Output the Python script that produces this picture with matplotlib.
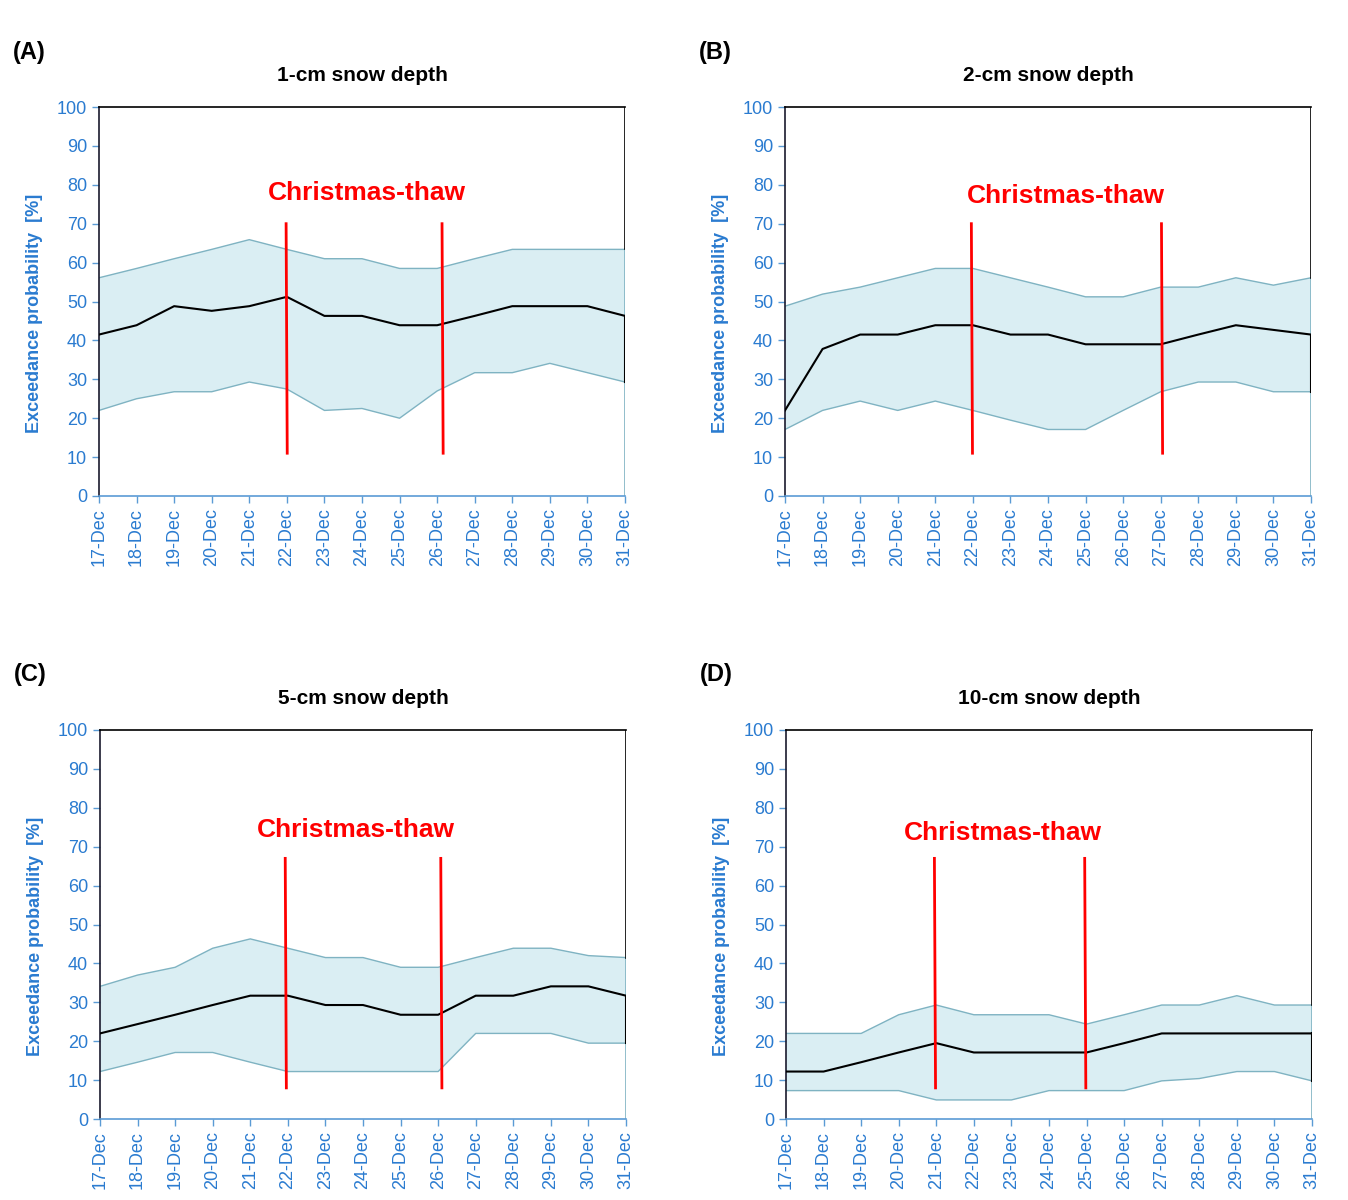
import matplotlib
matplotlib.use("Agg")
import matplotlib.pyplot as plt

plt.rcParams["font.family"] = ["Liberation Sans", "DejaVu Sans"]

days = ["17-Dec", "18-Dec", "19-Dec", "20-Dec", "21-Dec", "22-Dec", "23-Dec", "24-Dec",
        "25-Dec", "26-Dec", "27-Dec", "28-Dec", "29-Dec", "30-Dec", "31-Dec"]

# panel A: 1-cm snow depth
a_upper = [56.1, 58.5, 61.0, 63.4, 65.9, 63.4, 61.0, 61.0, 58.5, 58.5, 61.0, 63.4, 63.4, 63.4, 63.4]
a_median = [41.5, 43.9, 48.8, 47.6, 48.8, 51.2, 46.3, 46.3, 43.9, 43.9, 46.3, 48.8, 48.8, 48.8, 46.3]
a_lower = [22.0, 25.0, 26.8, 26.8, 29.3, 27.5, 22.0, 22.5, 20.0, 27.0, 31.7, 31.7, 34.1, 31.7, 29.3]

# panel B: 2-cm snow depth
b_upper = [48.8, 51.9, 53.7, 56.1, 58.5, 58.5, 56.1, 53.7, 51.2, 51.2, 53.7, 53.7, 56.1, 54.2, 56.1]
b_median = [22.0, 37.8, 41.5, 41.5, 43.9, 43.9, 41.5, 41.5, 39.0, 39.0, 39.0, 41.5, 43.9, 42.7, 41.5]
b_lower = [17.1, 22.0, 24.4, 22.0, 24.4, 22.0, 19.5, 17.1, 17.1, 22.0, 26.8, 29.3, 29.3, 26.8, 26.8]

# panel C: 5-cm snow depth
c_upper = [34.1, 37.0, 39.0, 43.9, 46.3, 43.9, 41.5, 41.5, 39.0, 39.0, 41.5, 43.9, 43.9, 42.0, 41.5]
c_median = [22.0, 24.4, 26.8, 29.3, 31.7, 31.7, 29.3, 29.3, 26.8, 26.8, 31.7, 31.7, 34.1, 34.1, 31.7]
c_lower = [12.2, 14.6, 17.1, 17.1, 14.6, 12.2, 12.2, 12.2, 12.2, 12.2, 22.0, 22.0, 22.0, 19.5, 19.5]

# panel D: 10-cm snow depth
d_upper = [22.0, 22.0, 22.0, 26.8, 29.3, 26.8, 26.8, 26.8, 24.4, 26.8, 29.3, 29.3, 31.7, 29.3, 29.3]
d_median = [12.2, 12.2, 14.6, 17.1, 19.5, 17.1, 17.1, 17.1, 17.1, 19.5, 22.0, 22.0, 22.0, 22.0, 22.0]
d_lower = [7.3, 7.3, 7.3, 7.3, 4.9, 4.9, 4.9, 7.3, 7.3, 7.3, 9.8, 10.4, 12.2, 12.2, 9.8]

# thaw markers (day index), their vertical extent and label position
thaw_x = {"A": [4.98, 9.13], "B": [4.96, 10.02], "C": [4.93, 9.07], "D": [3.95, 7.95]}
thaw_y = {"A": [11, 70], "B": [11, 70], "C": [8, 67], "D": [8, 67]}
thaw_label = {"A": (7.13, 77.9), "B": (7.48, 77.1), "C": (6.8, 74.3), "D": (5.76, 73.5)}

panels = [
    ("A", "1-cm snow depth", a_upper, a_median, a_lower, (99, 107)),
    ("B", "2-cm snow depth", b_upper, b_median, b_lower, (785, 107)),
    ("C", "5-cm snow depth", c_upper, c_median, c_lower, (100, 730)),
    ("D", "10-cm snow depth", d_upper, d_median, d_lower, (786, 730)),
]

W, H = 1348, 1200
AX_W, AX_H = 526, 389
BLUE = "#2A7BD0"
SPINE_BLUE = "#5B9BD5"
FILL = "#DAEEF3"
EDGE = "#7FB3C2"

fig = plt.figure(figsize=(W / 100, H / 100), dpi=100)

for key, title, upper, median, lower, (px, py) in panels:
    ax = fig.add_axes([px / W, (H - py - AX_H) / H, AX_W / W, AX_H / H])
    x = list(range(len(days)))

    ax.fill_between(x, lower, upper, facecolor=FILL, edgecolor="none", zorder=1)
    ax.plot(x, upper, color=EDGE, lw=1.0, zorder=2)
    ax.plot(x, lower, color=EDGE, lw=1.0, zorder=2)
    ax.plot([x[-1], x[-1]], [0, upper[-1]], color=EDGE, lw=1.2, zorder=2)
    ax.plot([x[-1], x[-1]], [upper[-1], 100], color="black", lw=1.2, zorder=3)
    ax.plot([x[-1], x[-1]], [lower[-1], median[-1]], color="black", lw=1.5, zorder=3)
    ax.plot(x, median, color="black", lw=1.5, zorder=3)

    for tx in thaw_x[key]:
        ax.plot([tx, tx + 0.03], [thaw_y[key][1], thaw_y[key][0]], color="#FF0000", lw=2, zorder=4)
    lx, ly = thaw_label[key]
    ax.text(lx, ly, "Christmas-thaw", color="#FF0000", fontsize=19, fontweight="bold",
            ha="center", va="center", zorder=5)

    ax.set_xlim(0, len(days) - 1)
    ax.set_ylim(0, 100)
    ax.set_xticks(x)
    ax.set_xticklabels(days, rotation=90, fontsize=13, color=BLUE)
    ax.set_yticks(range(0, 101, 10))
    ax.set_yticklabels([str(v) for v in range(0, 101, 10)], fontsize=13, color=BLUE)
    ax.tick_params(axis="both", colors=SPINE_BLUE, length=5, width=1)
    for lab in ax.get_xticklabels() + ax.get_yticklabels():
        lab.set_color(BLUE)

    ax.spines["left"].set_color("#1a1a2e")
    ax.spines["left"].set_linewidth(1.2)
    ax.spines["bottom"].set_color(SPINE_BLUE)
    ax.spines["bottom"].set_linewidth(1.2)
    ax.spines["top"].set_color("black")
    ax.spines["top"].set_linewidth(1.2)
    ax.spines["right"].set_visible(False)

    ax.set_ylabel("Exceedance probability  [%]", fontsize=13, fontweight="bold", color=BLUE)
    ax.yaxis.set_label_coords(-0.106, 0.47)

    ax.set_title(title, fontsize=15, fontweight="bold", pad=19)
    fig.text((px - 86) / W, 1 - (py - 55) / H, f"({key})", fontsize=17, fontweight="bold",
             ha="left", va="center")

fig.savefig("out.png", dpi=100)
